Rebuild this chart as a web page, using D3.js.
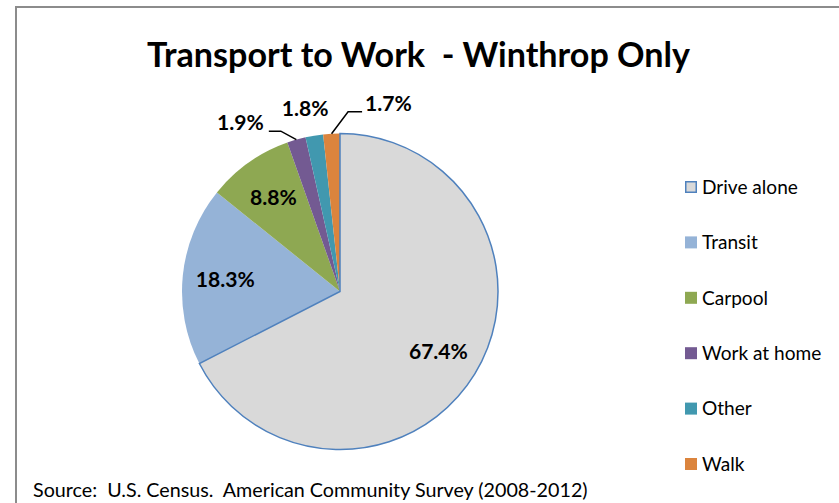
<!DOCTYPE html>
<html><head><meta charset="utf-8">
<script src="https://cdn.jsdelivr.net/npm/d3@7"></script>
<style>
html,body{margin:0;padding:0;background:#fff;}
svg{display:block;}
text{font-family:Lato,"Open Sans",sans-serif;}
</style></head>
<body>
<svg id="chart" width="839" height="503"></svg>
<script>
const categories = ["Drive alone","Transit","Carpool","Work at home","Other","Walk"];
const values = [67.4, 18.3, 8.8, 1.9, 1.8, 1.7];
const labels = ["67.4%","18.3%","8.8%","1.9%","1.8%","1.7%"];
const colors = ["#D9D9D9","#95B3D7","#8EA852","#735A92","#4198AF","#DB843D"];
const titleText = "Transport to Work  - Winthrop Only";
const sourceText = "Source:  U.S. Census.  American Community Survey (2008-2012)";

// layout for outer (small-slice) labels: angle nudge (deg) from slice middle
const outerLabels = {
  "Work at home": {nudge: -14.5, r: 1.24, leader: "right"},
  "Other": {nudge: -1.4, r: 1.18, leader: null},
  "Walk": {nudge: 17.5, r: 1.23, leader: "left"}
};

const svg = d3.select("#chart");
const W = 839, H = 503;

// frame
svg.append("path").attr("d", `M16,${H+2} L16,7 L${W+2},7`)
  .attr("fill","none").attr("stroke","#8c8c8c").attr("stroke-width",2);

function fit(sel, target){
  const w = sel.node().getComputedTextLength();
  const fs = parseFloat(sel.attr("font-size"));
  const nfs = fs*target/w;
  sel.attr("font-size", nfs);
  return nfs;
}

// title
const title = svg.append("text").attr("x",418.5).attr("y",67)
  .attr("text-anchor","middle").attr("font-weight","bold").attr("font-size",32)
  .attr("fill","#000").style("white-space","pre").text(titleText);
fit(title, 543);

const cx = 340, cy = 291.5, R = 158;
const g = svg.append("g").attr("transform",`translate(${cx},${cy})`);
const data = categories.map((c,i)=>({cat:c, value:values[i], label:labels[i], color:colors[i]}));
const pie = d3.pie().sort(null).value(d=>d.value);
const arcs = pie(data);
const arc = d3.arc().innerRadius(0).outerRadius(R);

// draw others first, then drive alone on top (with its border)
const order = arcs.slice(1).concat([arcs[0]]);
g.selectAll("path.slice").data(order).join("path").attr("class","slice")
  .attr("d", arc)
  .attr("fill", d=>d.data.color)
  .attr("stroke", d=>d.index===0 ? "#4F81BD" : "none")
  .attr("stroke-width", d=>d.index===0 ? 1.5 : 0);

// measure label font size from the big label's width
const probe = svg.append("text").attr("font-weight","bold").attr("font-size",20).text(labels[0]);
const labelFs = fit(probe, 59);
probe.remove();

// inner labels
const labelArc = d3.arc().innerRadius(R*0.73).outerRadius(R*0.73);
arcs.filter(a=>!outerLabels[a.data.cat]).forEach(a=>{
  const [x,y] = labelArc.centroid(a);
  g.append("text").attr("x",x).attr("y",y).attr("dy","0.35em")
    .attr("text-anchor","middle").attr("font-weight","bold").attr("font-size",labelFs)
    .attr("fill","#000").text(a.data.label);
});

// outer labels
arcs.filter(a=>outerLabels[a.data.cat]).forEach(a=>{
  const o = outerLabels[a.data.cat];
  const mid = (a.startAngle + a.endAngle)/2;
  const ang = mid + o.nudge*Math.PI/180;
  const lx = Math.sin(ang)*R*o.r, ly = -Math.cos(ang)*R*o.r;
  const t = g.append("text").attr("x",lx).attr("y",ly).attr("dy","0.35em")
    .attr("text-anchor","middle").attr("font-weight","bold").attr("font-size",labelFs)
    .attr("fill","#000").text(a.data.label);
  if(o.leader){
    const bb = t.node().getBBox();
    const ex = Math.sin(mid)*R, ey = -Math.cos(mid)*R;
    const yLine = bb.y + bb.height - 3;
    let x0, x1;
    if(o.leader==="right"){ x0 = bb.x + bb.width + 5; x1 = x0 + 12; }
    else { x0 = bb.x - 3; x1 = x0 - 14; }
    g.append("path").attr("d",`M${x0},${yLine} L${x1},${yLine} L${ex},${ey}`)
      .attr("fill","none").attr("stroke","#000").attr("stroke-width",1.5);
  }
});

// legend
const ly = d3.scalePoint().domain(categories).range([187,464]);
const leg = svg.append("g");
categories.forEach((c,i)=>{
  const y = ly(c);
  if(i===0){
    leg.append("rect").attr("x",685.75).attr("y",y-5.25).attr("width",10.5).attr("height",10.5)
      .attr("fill",colors[i]).attr("stroke","#4F81BD").attr("stroke-width",1.5);
  } else {
    leg.append("rect").attr("x",685).attr("y",y-6).attr("width",12).attr("height",12)
      .attr("fill",colors[i]);
  }
  const t = leg.append("text").attr("x",702).attr("y",y).attr("dy","0.36em")
    .attr("font-size",17).attr("fill","#000").text(c);
  if(i===0) fit(t, 96);
});
const legFs = leg.select("text").attr("font-size");
leg.selectAll("text").attr("font-size", legFs);

// source
const src = svg.append("text").attr("x",33).attr("y",497).attr("font-size",18)
  .attr("fill","#000").style("white-space","pre").text(sourceText);
fit(src, 555);
</script>
</body></html>
